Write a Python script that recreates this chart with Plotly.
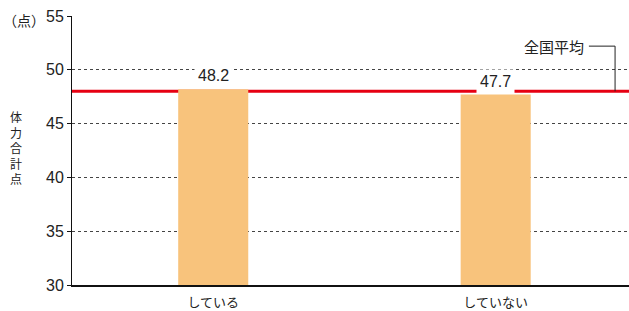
import plotly.graph_objects as go

categories = ["している", "していない"]
values = [48.2, 47.7]
value_labels = ["48.2", "47.7"]
national_avg = 48.0
avg_label = "全国平均"
y_ticks = [30, 35, 40, 45, 50, 55]
y_title = "体力合計点"
unit_label = "（点）"

BAR = "#F8C37C"
RED = "#E60012"
JP = "Noto Sans CJK JP"
NUM = "Liberation Sans, Arial"

fig = go.Figure()
fig.add_trace(go.Bar(x=categories, y=values, marker=dict(color=BAR, line=dict(width=0)),
                     width=0.248, hoverinfo="skip"))

# national average line (below bars)
fig.add_shape(type="line", xref="paper", yref="y", x0=0, x1=1, y0=national_avg, y1=national_avg,
              line=dict(color=RED, width=3), layer="below")

# value labels with white background
for c, v, t in zip(categories, values, value_labels):
    fig.add_annotation(x=c, y=v, text=t, showarrow=False, yanchor="bottom", yshift=1,
                       bgcolor="white", borderpad=3,
                       font=dict(family=NUM, size=16, color="#222"))

# national average label + leader line
fig.add_annotation(xref="paper", yref="y", x=0.922, y=52.2, text=avg_label, showarrow=False,
                   xanchor="right", yanchor="middle", font=dict(family=JP, size=15, color="#222"))
fig.add_shape(type="line", xref="paper", yref="y", x0=0.928, x1=0.975, y0=52.2, y1=52.2,
              line=dict(color="#222", width=1))
fig.add_shape(type="line", xref="paper", yref="y", x0=0.975, x1=0.975, y0=52.2, y1=national_avg,
              line=dict(color="#222", width=1))

# y title: vertically stacked characters
fig.add_annotation(xref="paper", yref="paper", x=-0.1, y=0.51, text="<br>".join(y_title),
                   showarrow=False, xanchor="center", yanchor="middle",
                   font=dict(family=JP, size=12, color="#222"))
fig.add_annotation(xref="paper", yref="paper", x=-0.128, y=0.985, text=unit_label, showarrow=False,
                   xanchor="left", yanchor="middle", font=dict(family=JP, size=14, color="#222"))

fig.update_layout(
    width=629, height=311, margin=dict(l=72, r=0, t=16, b=26, autoexpand=False),
    paper_bgcolor="white", plot_bgcolor="white", showlegend=False,
    xaxis=dict(range=[-0.5, 1.472], showgrid=False, showline=True, linecolor="#111", linewidth=1.5,
               ticks="", tickfont=dict(family=JP, size=13, color="#222"), ticklabelstandoff=5,
               fixedrange=True, automargin=False),
    yaxis=dict(range=[30, 55], tickvals=y_ticks, showgrid=True, gridcolor="#444", gridwidth=1,
               griddash="3px,3px", showline=True, linecolor="#111", linewidth=1, ticks="outside",
               ticklen=4, tickcolor="#111", tickfont=dict(family=NUM, size=16, color="#222"),
               zeroline=False, fixedrange=True, automargin=False),
)

fig.write_html("out.html", config={"displayModeBar": False},
               post_script="document.body.style.margin='0';document.body.style.overflow='hidden';")
